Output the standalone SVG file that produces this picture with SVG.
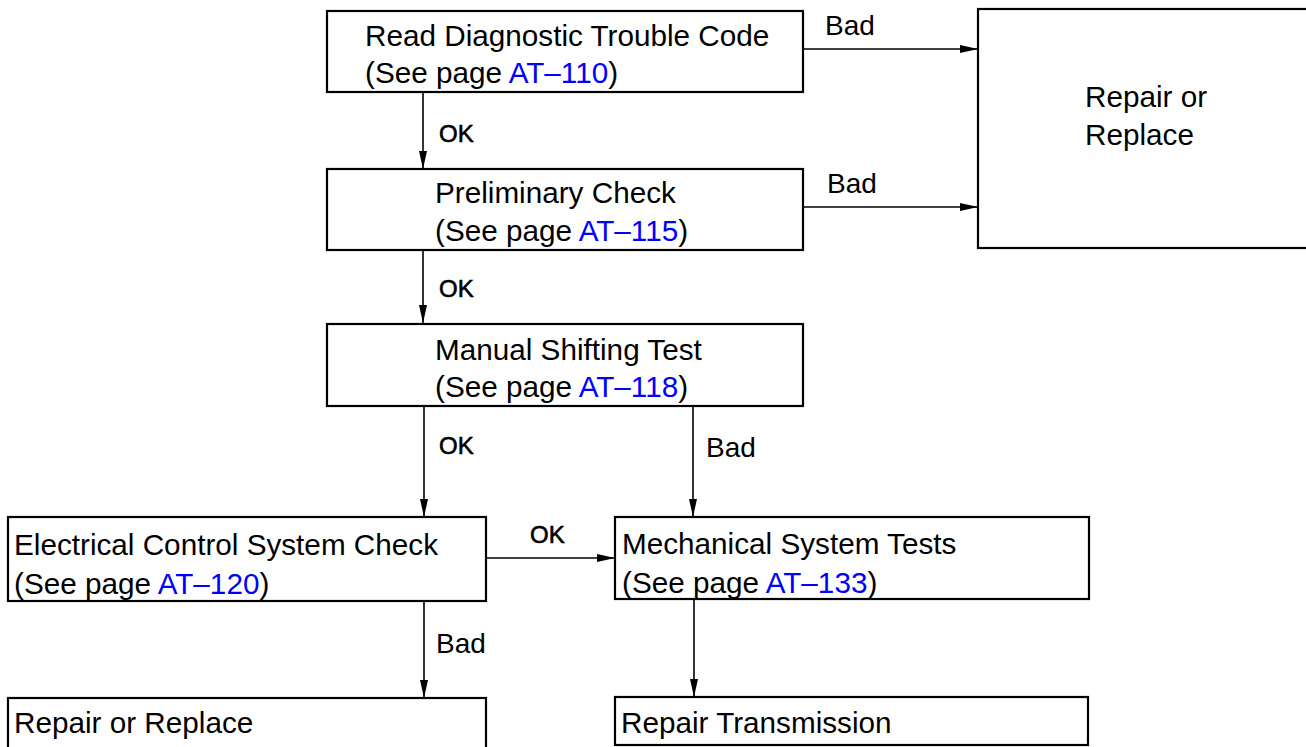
<svg xmlns="http://www.w3.org/2000/svg" width="1306" height="747" viewBox="0 0 1306 747">
<defs>
<style>
.box{fill:#fff;stroke:#000;stroke-width:2.2}
.t{font-family:"Liberation Sans",Arial,sans-serif;font-size:29.7px;fill:#000}
.lk{fill:#0000ff}
.lbl{font-family:"Liberation Sans",Arial,sans-serif;font-size:28px;fill:#000}
.ok{font-family:"Liberation Sans",Arial,sans-serif;font-size:24px;fill:#000;stroke:#000;stroke-width:0.6}
.c{fill:none;stroke:#000;stroke-width:1.6}
</style>
<marker id="ah" markerWidth="18" markerHeight="8" refX="18" refY="4" orient="auto" markerUnits="userSpaceOnUse">
<path d="M0,0 L18,4 L0,8 Z" fill="#000"/>
</marker>
</defs>
<rect width="1306" height="747" fill="#fff"/>
<g id="connectors">
<line class="c" x1="423" y1="93" x2="423" y2="169" marker-end="url(#ah)"/>
<line class="c" x1="423" y1="250" x2="423" y2="323" marker-end="url(#ah)"/>
<line class="c" x1="803" y1="49" x2="978" y2="49" marker-end="url(#ah)"/>
<line class="c" x1="803" y1="207" x2="978" y2="207" marker-end="url(#ah)"/>
<line class="c" x1="424" y1="406" x2="424" y2="517" marker-end="url(#ah)"/>
<line class="c" x1="693" y1="406" x2="693" y2="517" marker-end="url(#ah)"/>
<line class="c" x1="486" y1="558" x2="615" y2="558" marker-end="url(#ah)"/>
<line class="c" x1="424" y1="601" x2="424" y2="698" marker-end="url(#ah)"/>
<line class="c" x1="694" y1="600" x2="694" y2="697" marker-end="url(#ah)"/>
<text class="ok" x="439" y="142">OK</text>
<text class="ok" x="439" y="297">OK</text>
<text class="ok" x="439" y="454">OK</text>
<text class="ok" x="530" y="543">OK</text>
<text class="lbl" x="825" y="35">Bad</text>
<text class="lbl" x="827" y="193">Bad</text>
<text class="lbl" x="706" y="457">Bad</text>
<text class="lbl" x="436" y="653">Bad</text>
</g>
<g id="n-read">
<rect class="box" x="327" y="11" width="476" height="81"/>
<text class="t" x="365" y="46">Read Diagnostic Trouble Code</text>
<text class="t" x="365" y="83">(See page <tspan class="lk">AT–110</tspan>)</text>
</g>
<g id="n-prelim">
<rect class="box" x="327" y="169" width="476" height="81"/>
<text class="t" x="435" y="203">Preliminary Check</text>
<text class="t" x="435" y="241">(See page <tspan class="lk">AT–115</tspan>)</text>
</g>
<g id="n-repair-top">
<rect class="box" x="978" y="9" width="340" height="239"/>
<text class="t" x="1085" y="107">Repair or</text>
<text class="t" x="1085" y="145">Replace</text>
</g>
<g id="n-manual">
<rect class="box" x="327" y="324" width="476" height="82"/>
<text class="t" x="435" y="360">Manual Shifting Test</text>
<text class="t" x="435" y="397">(See page <tspan class="lk">AT–118</tspan>)</text>
</g>
<g id="n-electrical">
<rect class="box" x="8" y="517" width="478" height="84"/>
<text class="t" x="14" y="555">Electrical Control System Check</text>
<text class="t" x="14" y="594">(See page <tspan class="lk">AT–120</tspan>)</text>
</g>
<g id="n-mechanical">
<rect class="box" x="615" y="517" width="474" height="82"/>
<text class="t" x="622" y="554">Mechanical System Tests</text>
<text class="t" x="622" y="593">(See page <tspan class="lk">AT–133</tspan>)</text>
</g>
<g id="n-repair-bottom">
<rect class="box" x="8" y="698" width="478" height="60"/>
<text class="t" x="14" y="733">Repair or Replace</text>
</g>
<g id="n-repair-trans">
<rect class="box" x="615" y="697" width="473" height="48"/>
<text class="t" x="621" y="733">Repair Transmission</text>
</g>
</svg>
